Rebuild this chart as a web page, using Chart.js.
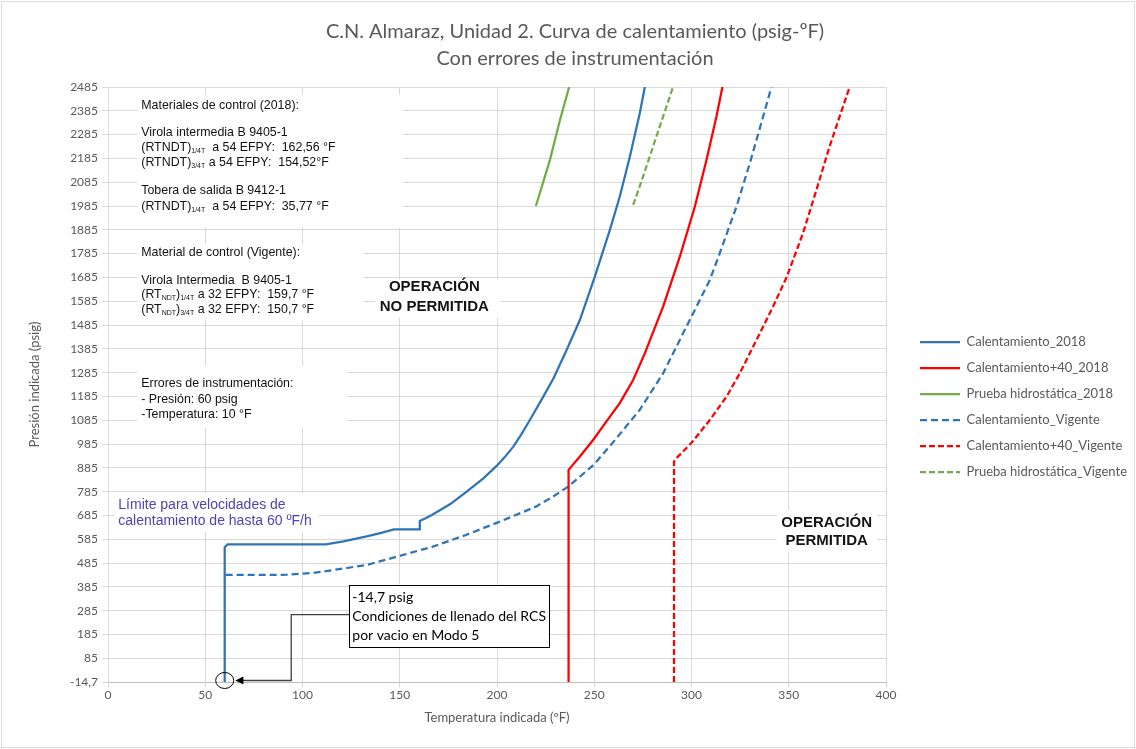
<!DOCTYPE html>
<html>
<head>
<meta charset="utf-8">
<script src="https://cdn.jsdelivr.net/npm/chart.js@4.4.1/dist/chart.umd.min.js"></script>
<style>
  html, body { margin: 0; padding: 0; background: #fff; }
  canvas { display: block; }
</style>
</head>
<body>
<canvas id="curva" width="1136" height="749"></canvas>
<script>
// ticks
const xTicks = [0, 50, 100, 150, 200, 250, 300, 350, 400];
const yTicks = [-14.7, 85, 185, 285, 385, 485, 585, 685, 785, 885, 985, 1085, 1185, 1285,
  1385, 1485, 1585, 1685, 1785, 1885, 1985, 2085, 2185, 2285, 2385, 2485];

// Calentamiento_2018 (temperatura ºF / presión psig)
const cal2018T = [60, 60, 61.5, 70, 90, 112, 121, 133, 140, 147, 160, 160.3, 163, 166.5, 176, 184.4,
  193, 199.8, 204, 208.4, 212.5, 216.9, 223.8, 229, 235.8, 242.6, 250.3, 258, 263.1, 268.3, 273.4, 276];
const cal2018P = [-14.7, 552, 564, 564, 564, 564, 576, 597, 611, 626, 626, 662, 672, 687, 733, 785,
  841, 893, 930, 974, 1026, 1086, 1184, 1260, 1380, 1506, 1688, 1884, 2024, 2192, 2375, 2485];

// Calentamiento+40_2018
const cal40_2018T = [236.8, 236.8, 238, 242.6, 249.5, 256.3, 263.2, 270, 276, 285.4, 294, 301.7, 307.7, 312.8, 315.9];
const cal40_2018P = [-14.7, 876, 888, 933, 1003, 1080, 1158, 1254, 1366, 1562, 1772, 1982, 2178, 2360, 2485];

// Prueba hidrostática_2018
const hidro2018T = [220, 227.2, 232.4, 237.1];
const hidro2018P = [1985, 2178, 2347, 2485];

// Calentamiento_Vigente
const calVigT = [60.5, 75, 92, 105, 116, 133, 150, 167, 184, 201.5, 210, 220, 228, 236.6, 250, 261.5, 273.4,
  285.4, 299.1, 309.4, 314.5, 323.1, 330, 336.8, 341.1];
const calVigP = [435, 435, 436, 443, 456, 477, 515, 554, 603, 659, 688, 722, 760, 806, 900, 1010, 1129,
  1282, 1506, 1674, 1786, 1982, 2165, 2360, 2485];

// Calentamiento+40_Vigente
const cal40VigT = [291, 291, 292.3, 300, 309.4, 318, 324.8, 333.4, 341.9, 349, 357.3, 364.2, 371, 377.9, 381.3];
const cal40VigP = [-14.7, 911, 926, 990, 1086, 1184, 1282, 1422, 1562, 1688, 1870, 2052, 2235, 2403, 2485];

// Prueba hidrostática_Vigente
const hidroVigT = [270, 273.4, 282, 290.5];
const hidroVigP = [1990, 2068, 2278, 2485];

const BLUE = '#2f75b5', RED = '#ff0000', GREEN = '#70ad47';
const GREY = '#595959';

function pts(T, P) {
  return T.map((t, i) => ({ x: t, y: P[i] }));
}

function serie(label, T, P, color, dash) {
  return {
    label: label,
    data: pts(T, P),
    borderColor: color,
    backgroundColor: color,
    borderWidth: 2.25,
    borderDash: dash || [],
    pointRadius: 0,
    pointHoverRadius: 0,
    tension: 0,
    fill: false
  };
}

// text notes, in data coordinates (x = ºF, y = psig)
const whiteBoxes = [
  [15.1, 151.7, 2453, 1894],
  [15.1, 131.1, 1823, 1508],
  [15.1, 123.0, 1314, 1054],
  [137.3, 201.5, 1676, 1516],
  [3.3, 108.1, 777, 617],
  [343.8, 395.7, 709, 533]
];

const noteLines = [
  { x: 17.1, y: 2407, runs: [['Materiales de control (2018):']] },
  { x: 17.1, y: 2293, runs: [['Virola intermedia B 9405-1']] },
  { x: 17.1, y: 2230, runs: [['(RTNDT)'], ['1/4T', 1], ['  a 54 EFPY:  162,56 °F']] },
  { x: 17.1, y: 2167, runs: [['(RTNDT)'], ['3/4T', 1], [' a 54 EFPY:  154,52°F']] },
  { x: 17.1, y: 2050, runs: [['Tobera de salida B 9412-1']] },
  { x: 17.1, y: 1982, runs: [['(RTNDT)'], ['1/4T', 1], ['  a 54 EFPY:  35,77 °F']] },
  { x: 17.1, y: 1789, runs: [['Material de control (Vigente):']] },
  { x: 17.1, y: 1671, runs: [['Virola Intermedia  B 9405-1']] },
  { x: 17.1, y: 1613, runs: [['(RT'], ['NDT', 1], [')'], ['1/4T', 1], [' a 32 EFPY:  159,7 °F']] },
  { x: 17.1, y: 1550, runs: [['(RT'], ['NDT', 1], [')'], ['3/4T', 1], [' a 32 EFPY:  150,7 °F']] },
  { x: 17.1, y: 1239, runs: [['Errores de instrumentación:']] },
  { x: 17.1, y: 1171, runs: [['- Presión: 60 psig']] },
  { x: 17.1, y: 1108, runs: [['-Temperatura: 10 °F']] }
];

const notasPlugin = {
  id: 'notas',
  beforeDatasetsDraw(chart) {
    const { ctx, scales: { x, y } } = chart;
    ctx.save();
    ctx.fillStyle = '#fff';
    whiteBoxes.forEach(b => {
      const l = x.getPixelForValue(b[0]), r = x.getPixelForValue(b[1]);
      const t = y.getPixelForValue(b[2]), bt = y.getPixelForValue(b[3]);
      ctx.fillRect(l, t, r - l, bt - t);
    });

    ctx.fillStyle = '#111';
    ctx.textBaseline = 'middle';
    ctx.textAlign = 'left';
    noteLines.forEach(line => {
      let px = x.getPixelForValue(line.x);
      const py = y.getPixelForValue(line.y);
      line.runs.forEach(run => {
        if (run[1]) {
          ctx.font = '7px "Liberation Sans", Arial, sans-serif';
          ctx.fillText(run[0], px, py + 3.5);
        } else {
          ctx.font = '12.4px "Liberation Sans", Arial, sans-serif';
          ctx.fillText(run[0], px, py);
        }
        px += ctx.measureText(run[0]).width;
      });
    });

    ctx.textAlign = 'center';
    ctx.font = 'bold 15px "Liberation Sans", Arial, sans-serif';
    ctx.fillStyle = '#141414';
    ctx.fillText('OPERACIÓN', x.getPixelForValue(167.8), y.getPixelForValue(1646));
    ctx.fillText('NO PERMITIDA', x.getPixelForValue(167.8), y.getPixelForValue(1562));
    ctx.fillText('OPERACIÓN', x.getPixelForValue(369.5), y.getPixelForValue(655));
    ctx.fillText('PERMITIDA', x.getPixelForValue(369.5), y.getPixelForValue(579));

    ctx.textAlign = 'left';
    ctx.font = '14px "Liberation Sans", Arial, sans-serif';
    ctx.fillStyle = '#4f42b8';
    ctx.fillText('Límite para velocidades de', x.getPixelForValue(5.3), y.getPixelForValue(730));
    ctx.fillText('calentamiento de hasta 60 ºF/h', x.getPixelForValue(5.3), y.getPixelForValue(663));
    ctx.restore();
  },
  afterDatasetsDraw(chart) {
    const { ctx, scales: { x, y } } = chart;
    ctx.save();
    // recuadro llenado RCS
    const l = x.getPixelForValue(124), r = x.getPixelForValue(226.7);
    const t = y.getPixelForValue(394), b = y.getPixelForValue(133.6);
    ctx.fillStyle = '#fff';
    ctx.fillRect(l, t, r - l, b - t);
    ctx.strokeStyle = '#000';
    ctx.lineWidth = 1;
    ctx.strokeRect(Math.round(l) + 0.5, Math.round(t) + 0.5, Math.round(r - l), Math.round(b - t));
    ctx.fillStyle = '#000';
    ctx.font = '14px Lato, "Open Sans", sans-serif';
    ctx.textBaseline = 'middle';
    ctx.fillText('-14,7 psig', x.getPixelForValue(125.6), y.getPixelForValue(340));
    ctx.fillText('Condiciones de llenado del RCS', x.getPixelForValue(125.6), y.getPixelForValue(260));
    ctx.fillText('por vacio en Modo 5', x.getPixelForValue(125.6), y.getPixelForValue(180));

    // conector con flecha hacia (60, -14,7)
    const cx = x.getPixelForValue(60), cy = y.getPixelForValue(-14.7) - 1.5;
    const elbow = x.getPixelForValue(94.2);
    const my = y.getPixelForValue(268);
    const tip = x.getPixelForValue(65.5);
    ctx.strokeStyle = '#404040';
    ctx.lineWidth = 1.3;
    ctx.beginPath();
    ctx.moveTo(l, my);
    ctx.lineTo(elbow, my);
    ctx.lineTo(elbow, cy);
    ctx.lineTo(tip + 7, cy);
    ctx.stroke();
    ctx.fillStyle = '#000';
    ctx.beginPath();
    ctx.moveTo(tip, cy);
    ctx.lineTo(tip + 8, cy - 4);
    ctx.lineTo(tip + 8, cy + 4);
    ctx.closePath();
    ctx.fill();
    ctx.strokeStyle = '#000';
    ctx.lineWidth = 1;
    ctx.beginPath();
    ctx.ellipse(cx, cy, 9, 8, 0, 0, Math.PI * 2);
    ctx.stroke();
    ctx.restore();
  },
  afterLayout(chart) {
    const lg = chart.legend;
    if (lg) {
      const w = lg.width, h = lg.height;
      lg.left = 907; lg.right = 907 + w;
      lg.top = 322.5; lg.bottom = 322.5 + h;
    }
    const tb = chart.titleBlock;
    if (tb) {
      tb.left = 0; tb.right = 1150; tb.width = 1150;
    }
  },
  afterDraw(chart) {
    const ctx = chart.ctx;
    ctx.save();
    ctx.strokeStyle = '#d9d9d9';
    ctx.lineWidth = 1;
    ctx.strokeRect(1.5, 1.5, chart.width - 3, chart.height - 3);
    ctx.restore();
  }
};

new Chart(document.getElementById('curva'), {
  type: 'line',
  data: {
    datasets: [
      serie('Calentamiento_2018', cal2018T, cal2018P, BLUE),
      serie('Calentamiento+40_2018', cal40_2018T, cal40_2018P, RED),
      serie('Prueba hidrostática_2018', hidro2018T, hidro2018P, GREEN),
      serie('Calentamiento_Vigente', calVigT, calVigP, BLUE, [7, 4]),
      serie('Calentamiento+40_Vigente', cal40VigT, cal40VigP, RED, [6, 3]),
      serie('Prueba hidrostática_Vigente', hidroVigT, hidroVigP, GREEN, [6, 3])
    ]
  },
  options: {
    responsive: false,
    animation: false,
    events: [],
    layout: { padding: { left: 0, right: 250, top: 0, bottom: 17 } },
    plugins: {
      title: {
        display: true,
        text: ['C.N. Almaraz, Unidad 2. Curva de calentamiento (psig-ºF)', 'Con errores de instrumentación'],
        color: GREY,
        font: { family: 'Lato, "Open Sans", sans-serif', size: 20, weight: 'normal', lineHeight: 1.35 },
        padding: { top: 18, bottom: 15 }
      },
      legend: {
        position: 'chartArea',
        align: 'start',
        labels: {
          usePointStyle: true,
          pointStyle: 'line',
          pointStyleWidth: 40,
          padding: 13,
          color: GREY,
          font: { family: 'Lato, "Open Sans", sans-serif', size: 13 },
          generateLabels(chart) {
            const items = Chart.defaults.plugins.legend.labels.generateLabels(chart);
            items.forEach(it => {
              const ds = chart.data.datasets[it.datasetIndex];
              it.lineDash = ds.borderDash;
              it.lineWidth = ds.borderWidth;
              it.strokeStyle = ds.borderColor;
            });
            return items;
          }
        }
      },
      tooltip: { enabled: false }
    },
    scales: {
      x: {
        type: 'linear',
        min: 0,
        max: 400,
        afterBuildTicks: s => { s.ticks = xTicks.map(v => ({ value: v })); },
        afterFit: s => { s.height = 50; },
        grid: { color: '#d9d9d9', tickLength: 5, tickColor: '#d9d9d9' },
        border: { color: '#bfbfbf' },
        ticks: { color: GREY, padding: 1, maxRotation: 0, font: { family: 'Lato, sans-serif', size: 12 } },
        title: {
          display: true,
          text: 'Temperatura indicada (ºF)',
          color: GREY,
          font: { family: 'Lato, sans-serif', size: 13 },
          padding: { top: 4, bottom: 6 }
        }
      },
      y: {
        type: 'linear',
        min: -14.7,
        max: 2485,
        afterBuildTicks: s => { s.ticks = yTicks.map(v => ({ value: v })); },
        afterFit: s => { s.width = 108; },
        grid: { color: '#d9d9d9', tickLength: 6, tickColor: '#d9d9d9' },
        border: { color: '#d9d9d9' },
        ticks: {
          color: GREY,
          padding: 4,
          autoSkip: false,
          font: { family: 'Lato, sans-serif', size: 12 },
          callback: v => v === -14.7 ? '-14,7' : String(v)
        },
        title: {
          display: true,
          text: 'Presión indicada (psig)',
          color: GREY,
          font: { family: 'Lato, sans-serif', size: 13 },
          padding: { top: 27, bottom: 0 }
        }
      }
    }
  },
  plugins: [notasPlugin]
});
</script>
</body>
</html>
